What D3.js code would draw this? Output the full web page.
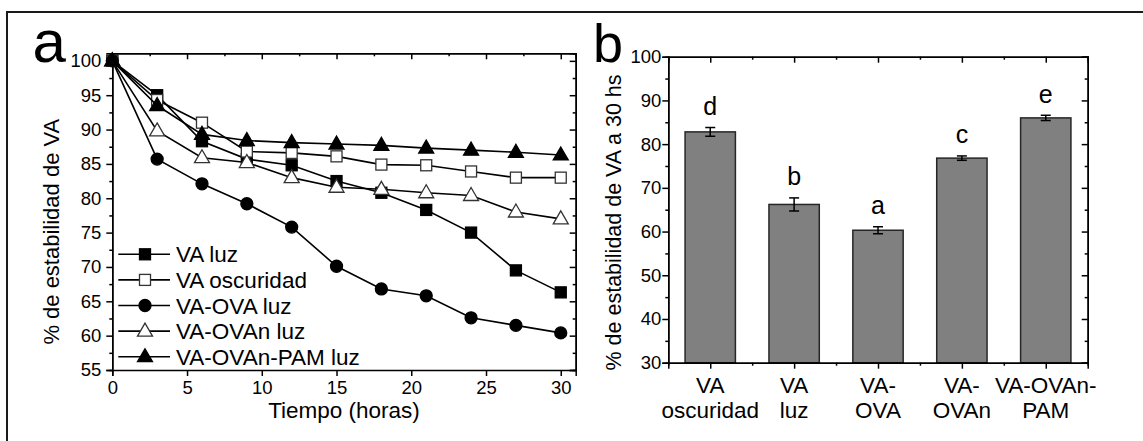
<!DOCTYPE html>
<html>
<head>
<meta charset="utf-8">
<script src="https://cdn.jsdelivr.net/npm/d3@7"></script>
<style>
  body { margin: 0; background: #fff; }
  svg { display: block; font-family: "Liberation Sans", Arial, sans-serif; }
  .axis path, .axis line { stroke: #000; stroke-width: 1.5; }
  .axis text { font-size: 18.5px; fill: #000; font-family: "Liberation Sans", Arial, sans-serif; }
</style>
</head>
<body>
<script>
// panel a data
var hours = [0, 3, 6, 9, 12, 15, 18, 21, 24, 27, 30];
var vaLuz = [100, 95.0, 88.3, 85.7, 84.8, 82.5, 80.8, 78.3, 75.0, 69.5, 66.3];
var vaOscuridad = [100, 94.3, 91.0, 86.8, 86.6, 86.1, 84.9, 84.8, 83.9, 83.0, 83.0];
var vaOvaLuz = [100, 85.7, 82.1, 79.2, 75.8, 70.1, 66.8, 65.8, 62.6, 61.5, 60.4];
var vaOvanLuz = [100, 89.8, 85.9, 85.2, 83.0, 81.6, 81.3, 80.8, 80.4, 78.0, 77.0];
var vaOvanPamLuz = [100, 93.5, 89.3, 88.4, 88.1, 87.9, 87.7, 87.3, 87.0, 86.7, 86.3];
var seriesNames = ["VA luz", "VA oscuridad", "VA-OVA luz", "VA-OVAn luz", "VA-OVAn-PAM luz"];
var seriesMarkers = ["square-filled", "square-open", "circle-filled", "triangle-open", "triangle-filled"];

// panel b data
var categories = [["VA", "oscuridad"], ["VA", "luz"], ["VA-", "OVA"], ["VA-", "OVAn"], ["VA-OVAn-", "PAM"]];
var stability30 = [82.8, 66.2, 60.3, 76.8, 86.0];
var stabilityErr = [1.0, 1.5, 0.8, 0.5, 0.6];
var groupLetters = ["d", "b", "a", "c", "e"];

var svgWidth = 1143;
var svgHeight = 441;

var svg = d3.select("body")
  .append("svg")
  .attr("width", svgWidth)
  .attr("height", svgHeight);

// outer frame (top + left only are inside the picture)
svg.append("path")
  .attr("d", "M7," + svgHeight + "V12H" + svgWidth)
  .attr("fill", "none")
  .attr("stroke", "#1a1a1a")
  .attr("stroke-width", 2);

// ---------------- panel a ----------------
var a = { left: 112.3, top: 53.3, right: 575.7, bottom: 370 };

var xA = d3.scaleLinear().domain([0, 31]).range([a.left, a.right]);
var yA = d3.scaleLinear().domain([55, 101.1]).range([a.bottom, a.top]);

var xMajA = d3.range(0, 31, 5), xMinA = d3.range(2.5, 31, 5);
var yMajA = d3.range(55, 101, 5), yMinA = d3.range(57.5, 101, 5);

function drawAxes(x, y, box, xMaj, xMin, yMaj, yMin, yPad, xLabels) {
  // bottom
  var gb = svg.append("g").attr("class", "axis")
    .attr("transform", "translate(0," + box.bottom + ")");
  gb.call(d3.axisBottom(x).tickValues(xMin).tickSize(3).tickFormat(""));
  if (xLabels) {
    gb.call(d3.axisBottom(x).tickValues(xMaj).tickSize(6).tickPadding(5).tickFormat(d3.format("d")));
  } else {
    svg.append("g").attr("class", "axis")
      .attr("transform", "translate(0," + box.bottom + ")")
      .call(d3.axisBottom(x).tickValues(xMaj).tickSize(6).tickFormat(""));
  }
  // top (inward)
  svg.append("g").attr("class", "axis")
    .attr("transform", "translate(0," + box.top + ")")
    .call(d3.axisBottom(x).tickValues(xMin).tickSize(3).tickFormat(""));
  svg.append("g").attr("class", "axis")
    .attr("transform", "translate(0," + box.top + ")")
    .call(d3.axisBottom(x).tickValues(xMaj).tickSize(6).tickFormat(""));
  // left
  svg.append("g").attr("class", "axis")
    .attr("transform", "translate(" + box.left + ",0)")
    .call(d3.axisLeft(y).tickValues(yMin).tickSize(3).tickFormat(""));
  svg.append("g").attr("class", "axis")
    .attr("transform", "translate(" + box.left + ",0)")
    .call(d3.axisLeft(y).tickValues(yMaj).tickSize(6).tickPadding(yPad).tickFormat(d3.format("d")));
  // right (inward)
  svg.append("g").attr("class", "axis")
    .attr("transform", "translate(" + box.right + ",0)")
    .call(d3.axisLeft(y).tickValues(yMin).tickSize(3).tickFormat(""));
  svg.append("g").attr("class", "axis")
    .attr("transform", "translate(" + box.right + ",0)")
    .call(d3.axisLeft(y).tickValues(yMaj).tickSize(6).tickFormat(""));
}

function marker(g, kind, cx, cy) {
  var filled = kind.indexOf("filled") >= 0;
  var fill = filled ? "#000" : "#fff";
  var m;
  if (kind.indexOf("square") === 0) {
    m = g.append("rect").attr("x", cx - 5.5).attr("y", cy - 5.5)
      .attr("width", 11).attr("height", 11);
  } else if (kind.indexOf("circle") === 0) {
    m = g.append("circle").attr("cx", cx).attr("cy", cy).attr("r", 6);
  } else {
    m = g.append("path")
      .attr("d", "M" + cx + "," + (cy - 8) + "L" + (cx + 7.5) + "," + (cy + 5) + "L" + (cx - 7.5) + "," + (cy + 5) + "Z");
  }
  m.attr("fill", fill).attr("stroke", filled ? "#000" : "#333").attr("stroke-width", 1.3);
}

var allSeries = [vaLuz, vaOscuridad, vaOvaLuz, vaOvanLuz, vaOvanPamLuz];

var line = d3.line()
  .x(function(d) { return xA(d[0]); })
  .y(function(d) { return yA(d[1]); });

allSeries.forEach(function(vals, i) {
  var pts = hours.map(function(h, j) { return [h, vals[j]]; });
  var g = svg.append("g");
  g.append("path")
    .attr("d", line(pts))
    .attr("fill", "none")
    .attr("stroke", "#000")
    .attr("stroke-width", 1.6);
  pts.forEach(function(p) { marker(g, seriesMarkers[i], xA(p[0]), yA(p[1])); });
});

drawAxes(xA, yA, a, xMajA, xMinA, yMajA, yMinA, 5, true);

// legend
var legend = svg.append("g");
seriesNames.forEach(function(name, i) {
  var ly = 254.3 + i * 25.6;
  legend.append("line")
    .attr("x1", 118.3).attr("x2", 170).attr("y1", ly).attr("y2", ly)
    .attr("stroke", "#000").attr("stroke-width", 1.6);
  marker(legend, seriesMarkers[i], 145, ly);
  legend.append("text")
    .attr("x", 176).attr("y", ly + 8)
    .attr("font-size", "22.5px")
    .text(name);
});

// axis titles a
svg.append("text")
  .attr("x", 344).attr("y", 418)
  .attr("text-anchor", "middle")
  .attr("font-size", "22.5px")
  .text("Tiempo (horas)");

svg.append("text")
  .attr("transform", "translate(59,231.7) rotate(-90)")
  .attr("text-anchor", "middle")
  .attr("font-size", "22px")
  .text("% de estabilidad de VA");

svg.append("text")
  .attr("x", 32.5).attr("y", 61.5)
  .attr("font-size", "60px")
  .text("a");

// ---------------- panel b ----------------
var b = { left: 668.3, top: 56.7, right: 1087.7, bottom: 362.7 };

var xB = d3.scaleLinear().domain([0.5, 5.5]).range([b.left, b.right]);
var yB = d3.scaleLinear().domain([30, 100]).range([b.bottom, b.top]);

var idx = d3.range(1, 6);
var barW = 0.6 * (xB(2) - xB(1));

svg.selectAll(".bar")
  .data(stability30)
  .enter()
  .append("rect")
  .attr("class", "bar")
  .attr("x", function(d, i) { return xB(i + 1) - barW / 2; })
  .attr("y", function(d) { return yB(d); })
  .attr("width", barW)
  .attr("height", function(d) { return yB(30) - yB(d); })
  .attr("fill", "#808080")
  .attr("stroke", "#262626")
  .attr("stroke-width", 1.5);

// error bars
stability30.forEach(function(v, i) {
  var cx = xB(i + 1), e = stabilityErr[i];
  var g = svg.append("g").attr("stroke", "#000").attr("stroke-width", 1.5);
  g.append("line").attr("x1", cx).attr("x2", cx).attr("y1", yB(v - e)).attr("y2", yB(v + e));
  g.append("line").attr("x1", cx - 5).attr("x2", cx + 5).attr("y1", yB(v + e)).attr("y2", yB(v + e));
  g.append("line").attr("x1", cx - 5).attr("x2", cx + 5).attr("y1", yB(v - e)).attr("y2", yB(v - e));
  svg.append("text")
    .attr("x", cx).attr("y", yB(v + e) - 12.5)
    .attr("text-anchor", "middle")
    .attr("font-size", "25px")
    .text(groupLetters[i]);
});

drawAxes(xB, yB, b, idx, d3.range(1.5, 5.5, 1), d3.range(30, 101, 10), d3.range(35, 100, 10), 1, false);

// category labels
categories.forEach(function(lines, i) {
  var t = svg.append("text")
    .attr("x", xB(i + 1))
    .attr("y", 392.7)
    .attr("text-anchor", "middle")
    .attr("font-size", "22.5px");
  lines.forEach(function(s, k) {
    t.append("tspan").attr("x", xB(i + 1)).attr("dy", k === 0 ? 0 : 25.6).text(s);
  });
});

svg.append("text")
  .attr("transform", "translate(620.5,222.5) rotate(-90)")
  .attr("text-anchor", "middle")
  .attr("font-size", "21.5px")
  .text("% de estabilidad de VA a 30 hs");

svg.append("text")
  .attr("x", 593).attr("y", 61.7)
  .attr("font-size", "54px")
  .text("b");
</script>
</body>
</html>
